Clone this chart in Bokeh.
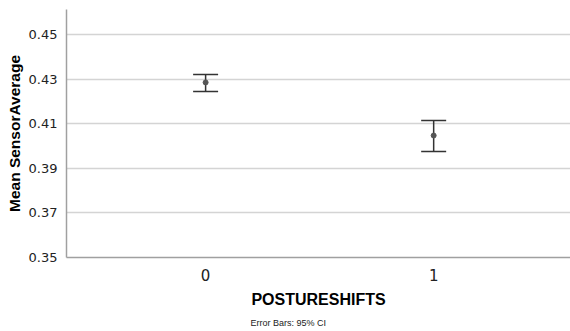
from bokeh.plotting import figure
from bokeh.models import ColumnDataSource, Whisker, TeeHead, FixedTicker, Title, Range1d
from bokeh.embed import file_html
from bokeh.resources import INLINE

groups = [0, 1]
group_labels = ["0", "1"]
means = [0.4285, 0.4047]
ci_upper = [0.4321, 0.4114]
ci_lower = [0.4244, 0.3975]
y_ticks = [0.35, 0.37, 0.39, 0.41, 0.43, 0.45]

src = ColumnDataSource(data=dict(x=groups, mean=means, upper=ci_upper, lower=ci_lower))

p = figure(width=570, height=331, output_backend="svg", toolbar_location=None,
           frame_width=504, frame_height=248,
           x_range=Range1d(-0.61, 1.60), y_range=Range1d(0.35, 0.4612),
           min_border_left=66, min_border_right=0, min_border_top=9, min_border_bottom=0)
p.outline_line_color = None
p.background_fill_color = "white"
p.border_fill_color = "white"

p.xaxis.ticker = FixedTicker(ticks=groups)
p.xaxis.major_label_overrides = {g: l for g, l in zip(groups, group_labels)}
p.yaxis.ticker = FixedTicker(ticks=y_ticks)
p.yaxis.major_label_overrides = {t: f"{t:.2f}" for t in y_ticks}

for ax in (p.xaxis, p.yaxis):
    ax.major_tick_line_color = None
    ax.minor_tick_line_color = None
    ax.axis_line_color = "#a0a0a0"
    ax.axis_line_width = 1.5
    ax.major_label_text_font = "DejaVu Sans"
    ax.major_label_text_color = "#222222"
    ax.axis_label_text_font = "Liberation Sans"
    ax.axis_label_text_font_style = "bold"
    ax.axis_label_text_color = "black"
    ax.axis_label_text_font_size = "16px"

p.yaxis.major_label_text_font_size = "13px"
p.xaxis.major_label_text_font_size = "15px"
p.yaxis.major_label_standoff = 3
p.xaxis.major_label_standoff = 5
p.yaxis.axis_label = "Mean SensorAverage"
p.xaxis.axis_label = "POSTURESHIFTS"
p.yaxis.axis_label_standoff = 3
p.xaxis.axis_label_standoff = 7
p.yaxis.axis_label_text_font_size = "15.5px"

p.xgrid.grid_line_color = None
p.ygrid.grid_line_color = "#d4d4d4"
p.ygrid.grid_line_width = 1.5

w = Whisker(source=src, base="x", upper="upper", lower="lower",
            line_color="#333333", line_width=1.5,
            upper_head=TeeHead(size=25, line_color="#333333", line_width=1.5),
            lower_head=TeeHead(size=25, line_color="#333333", line_width=1.5))
p.add_layout(w)
p.scatter(x="x", y="mean", source=src, size=5, color="#555555")

note = Title(text="Error Bars: 95% CI", align="left", offset=184,
             text_font="Liberation Sans", text_font_size="9px",
             text_font_style="normal", text_color="#222222")
p.add_layout(note, "below")

open("out.html", "w").write(file_html(p, INLINE))
